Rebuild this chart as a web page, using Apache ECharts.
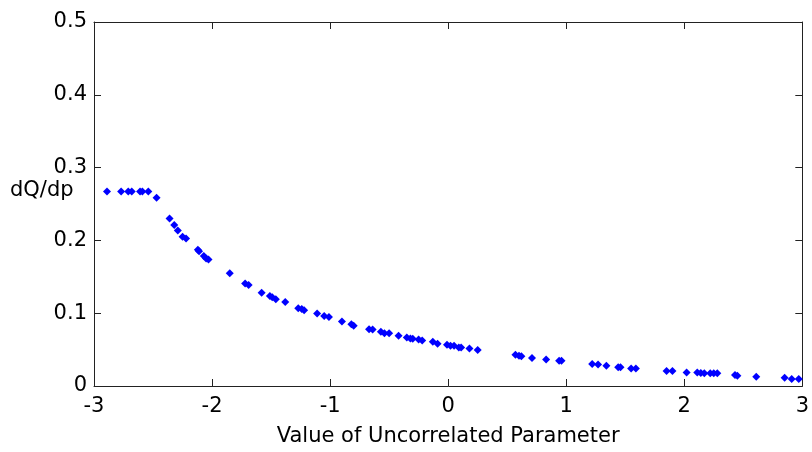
<!DOCTYPE html>
<html>
<head>
<meta charset="utf-8">
<script src="https://cdn.jsdelivr.net/npm/echarts@6/dist/echarts.min.js"></script>
<style>
  html, body { margin: 0; padding: 0; background: #fff; }
  #chart { width: 812px; height: 452px; }
</style>
</head>
<body>
<div id="chart"></div>
<script>
// Sensitivity dQ/dp sampled across the uncorrelated parameter
const paramValues = [
  -2.89, -2.77, -2.71, -2.68, -2.61, -2.59, -2.54, -2.47, -2.36, -2.32,
  -2.29, -2.25, -2.22, -2.12, -2.11, -2.07, -2.05, -2.03, -1.85, -1.72,
  -1.69, -1.58, -1.51, -1.49, -1.46, -1.38, -1.27, -1.24, -1.22, -1.11,
  -1.05, -1.01, -0.90, -0.82, -0.80, -0.67, -0.64, -0.57, -0.54, -0.50,
  -0.42, -0.35, -0.32, -0.30, -0.25, -0.22, -0.13, -0.09, -0.01, 0.02,
  0.05, 0.09, 0.11, 0.18, 0.25, 0.57, 0.60, 0.62, 0.71, 0.83,
  0.94, 0.96, 1.22, 1.27, 1.34, 1.44, 1.46, 1.55, 1.59, 1.85,
  1.90, 2.02, 2.11, 2.14, 2.17, 2.22, 2.25, 2.28, 2.43, 2.45,
  2.61, 2.85, 2.91, 2.97
];
const dQdp = [
  0.267, 0.267, 0.267, 0.267, 0.267, 0.267, 0.267, 0.2585, 0.230, 0.221,
  0.2137, 0.205, 0.2027, 0.187, 0.185, 0.1785, 0.175, 0.1736, 0.1548, 0.1407,
  0.1388, 0.128, 0.1237, 0.122, 0.119, 0.1155, 0.1068, 0.1059, 0.104, 0.0996,
  0.0963, 0.0949, 0.0886, 0.0849, 0.0826, 0.078, 0.0777, 0.0744, 0.0726, 0.0726,
  0.0689, 0.0667, 0.0653, 0.0648, 0.064, 0.0626, 0.0607, 0.058, 0.0566, 0.0552,
  0.0552, 0.053, 0.053, 0.0516, 0.0493, 0.0429, 0.0415, 0.0407, 0.0384, 0.0365,
  0.0347, 0.0347, 0.0301, 0.0297, 0.0278, 0.0256, 0.0256, 0.0242, 0.0242, 0.0205,
  0.0205, 0.0187, 0.0187, 0.0178, 0.0174, 0.0174, 0.0174, 0.0174, 0.0151, 0.0141,
  0.0128, 0.0114, 0.0096, 0.0096
];
const xTicks = [-3, -2, -1, 0, 1, 2, 3];
const yTicks = [0, 0.1, 0.2, 0.3, 0.4, 0.5];

const points = paramValues.map((x, i) => [x, dQdp[i]]);

const font = '"DejaVu Sans", Verdana, sans-serif';
const fontSize = 21;
const axisLine = { show: true, onZero: false, lineStyle: { color: '#222', width: 1 } };
const tickIn = { show: true, inside: true, length: 7, lineStyle: { color: '#222', width: 1 } };

const chart = echarts.init(document.getElementById('chart'), null, { renderer: 'canvas' });
chart.setOption({
  backgroundColor: '#ffffff',
  animation: false,
  grid: { left: 94, right: 9, top: 22, bottom: 65, containLabel: false },
  xAxis: [
    {
      type: 'value', min: xTicks[0], max: xTicks[xTicks.length - 1], interval: 1,
      position: 'bottom',
      name: 'Value of Uncorrelated Parameter',
      nameLocation: 'middle', nameGap: 40,
      nameTextStyle: { fontFamily: font, fontSize: fontSize, color: '#000' },
      axisLine: axisLine, axisTick: tickIn,
      axisLabel: { fontFamily: font, fontSize: fontSize, color: '#000', margin: 10 },
      splitLine: { show: false }
    },
    {
      type: 'value', min: xTicks[0], max: xTicks[xTicks.length - 1], interval: 1,
      position: 'top',
      axisLine: axisLine, axisTick: tickIn,
      axisLabel: { show: false }, splitLine: { show: false }
    }
  ],
  yAxis: [
    {
      type: 'value', min: yTicks[0], max: yTicks[yTicks.length - 1], interval: 0.1,
      position: 'left',
      axisLine: axisLine, axisTick: tickIn,
      axisLabel: {
        fontFamily: font, fontSize: fontSize, color: '#000', margin: 7,
        formatter: v => (v === 0 ? '0' : v.toFixed(1))
      },
      splitLine: { show: false }
    },
    {
      type: 'value', min: yTicks[0], max: yTicks[yTicks.length - 1], interval: 0.1,
      position: 'right',
      axisLine: axisLine, axisTick: tickIn,
      axisLabel: { show: false }, splitLine: { show: false }
    }
  ],
  graphic: [
    {
      type: 'text', left: 10, top: 180,
      style: { text: 'dQ/dp', font: fontSize + 'px ' + font, fill: '#000' }
    }
  ],
  series: [
    {
      type: 'scatter',
      data: points,
      xAxisIndex: 0, yAxisIndex: 0,
      symbol: 'diamond',
      symbolSize: 8,
      itemStyle: { color: '#0000ff', opacity: 1 }
    }
  ]
});
</script>
</body>
</html>
